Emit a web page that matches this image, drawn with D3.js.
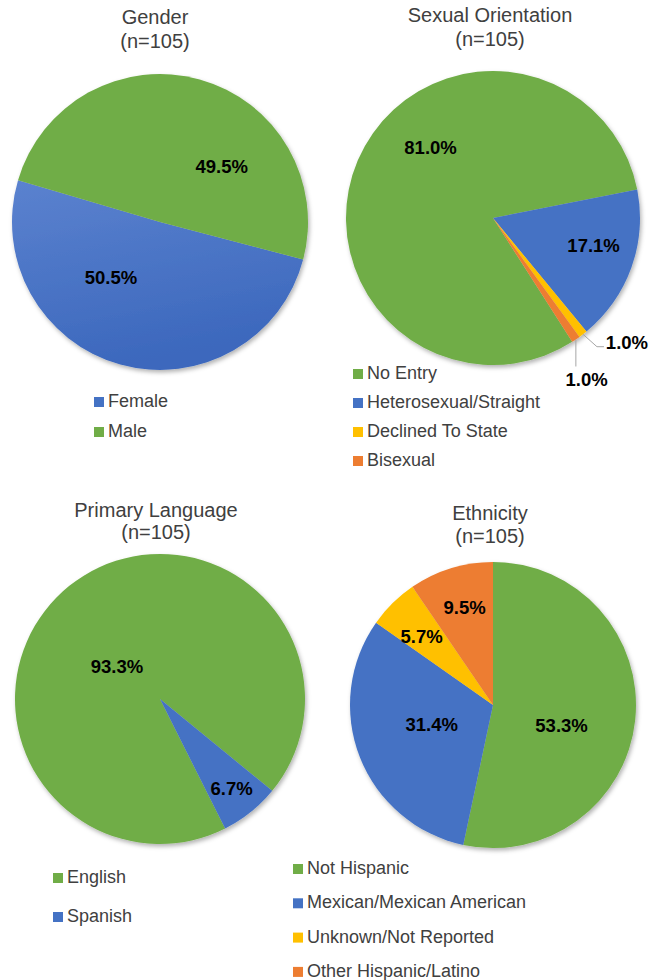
<!DOCTYPE html>
<html>
<head>
<meta charset="utf-8">
<script src="https://cdn.jsdelivr.net/npm/d3@7"></script>
<style>
  body { margin: 0; background: #fff; }
  svg { display: block; font-family: "Liberation Sans", Arial, sans-serif; }
</style>
</head>
<body>
<div id="chart"></div>
<script>
// data: counts out of n=105
const sampleSize = 105;

const genderCats = ["Female", "Male"];
const genderCounts = [53, 52];

const orientationCats = ["No Entry", "Heterosexual/Straight", "Declined To State", "Bisexual"];
const orientationCounts = [85, 18, 1, 1];

const languageCats = ["English", "Spanish"];
const languageCounts = [98, 7];

const ethnicityCats = ["Not Hispanic", "Mexican/Mexican American", "Unknown/Not Reported", "Other Hispanic/Latino"];
const ethnicityCounts = [56, 33, 6, 10];

const GREEN = "#70ad47", BLUE = "#4472c4", YELLOW = "#ffc000", ORANGE = "#ed7d31";

const width = 658, height = 980;
const rad = deg => deg * Math.PI / 180;
const fmt = d3.format(".1f");

const svg = d3.select("#chart").append("svg")
  .attr("width", width)
  .attr("height", height);

const defs = svg.append("defs");
defs.append("filter")
    .attr("id", "shadow")
    .attr("x", "-10%").attr("y", "-10%")
    .attr("width", "125%").attr("height", "125%")
  .append("feDropShadow")
    .attr("dx", 1.5).attr("dy", 2.5)
    .attr("stdDeviation", 2)
    .attr("flood-color", "#000")
    .attr("flood-opacity", 0.3);

const grad = defs.append("linearGradient")
  .attr("id", "blueGrad")
  .attr("x1", 0).attr("y1", 0).attr("x2", 0.3).attr("y2", 1);
grad.append("stop").attr("offset", "0%").attr("stop-color", "#5b82cf");
grad.append("stop").attr("offset", "100%").attr("stop-color", "#3c68bd");

// layout for each chart (label placement: angle shift from slice middle, fraction of radius)
const charts = [
  {
    title: "Gender", cats: genderCats, counts: genderCounts,
    colors: ["url(#blueGrad)", GREEN], legendColors: [BLUE, GREEN],
    cx: 160, cy: 222, r: 148, start: 104.7,
    tx: 155, ty: [24, 48],
    legend: { x: 94, y: 407, dy: 30 },
    labels: [{ shift: 26, frac: 0.5 }, { shift: 32.6, frac: 0.56 }]
  },
  {
    title: "Sexual Orientation", cats: orientationCats, counts: orientationCounts,
    colors: [GREEN, BLUE, YELLOW, ORANGE],
    cx: 493, cy: 218, r: 147, start: 147.4,
    tx: 490, ty: [22, 46],
    legend: { x: 353, y: 379, dy: 29 },
    labels: [
      { shift: 25.3, frac: 0.64 },
      { shift: -4.2, frac: 0.71 },
      { shift: -9.3, frac: 1.245, leader: "elbow" },
      { shift: 4.2, frac: 1.27, leader: "drop" }
    ]
  },
  {
    title: "Primary Language", cats: languageCats, counts: languageCounts,
    colors: [GREEN, BLUE],
    cx: 160, cy: 699, r: 145, start: 153.3,
    tx: 156, ty: [517, 539],
    legend: { x: 53, y: 883, dy: 39 },
    labels: [{ shift: -14.6, frac: 0.37 }, { shift: 0, frac: 0.79 }]
  },
  {
    title: "Ethnicity", cats: ethnicityCats, counts: ethnicityCounts,
    colors: [GREEN, BLUE, YELLOW, ORANGE],
    cx: 493, cy: 705, r: 143, start: 0,
    tx: 490, ty: [520, 543],
    legend: { x: 293, y: 874, dy: 34.3 },
    labels: [
      { shift: 10.5, frac: 0.5 },
      { shift: 3.7, frac: 0.45 },
      { shift: -1.8, frac: 0.69 },
      { shift: 0.9, frac: 0.71 }
    ]
  }
];

const polar = (a, r) => [r * Math.sin(a), -r * Math.cos(a)];

const drawPie = c => {
  const rows = c.cats.map((name, i) => ({ name, value: c.counts[i], i }));

  const pie = d3.pie()
    .sort(null)
    .value(d => d.value)
    .startAngle(rad(c.start))
    .endAngle(rad(c.start) + 2 * Math.PI);

  const arc = d3.arc().innerRadius(0).outerRadius(c.r);
  const arcs = pie(rows);

  // title
  const t = svg.append("text")
    .attr("text-anchor", "middle")
    .style("font-size", "20px")
    .style("fill", "#404040");
  t.append("tspan").attr("x", c.tx).attr("y", c.ty[0]).text(c.title);
  t.append("tspan").attr("x", c.tx).attr("y", c.ty[1]).text(`(n=${sampleSize})`);

  const g = svg.append("g")
    .attr("transform", `translate(${c.cx}, ${c.cy})`);

  g.append("g")
    .attr("filter", "url(#shadow)")
    .selectAll("path")
    .data(arcs)
    .join("path")
      .attr("d", arc)
      .attr("fill", d => c.colors[d.index]);

  arcs.forEach(d => {
    const lab = c.labels[d.index];
    const mid = (d.startAngle + d.endAngle) / 2;
    const [lx, ly] = polar(mid + rad(lab.shift), c.r * lab.frac);

    if (lab.leader === "elbow") {
      const [ex, ey] = polar(mid, c.r);
      g.append("polyline")
        .attr("points", [[ex, ey], [lx - 30, ly + 4], [lx - 23, ly + 4]].join(" "))
        .attr("fill", "none")
        .attr("stroke", "#a6a6a6")
        .attr("stroke-width", 1);
    }
    if (lab.leader === "drop") {
      const [ex, ey] = polar(mid, c.r);
      g.append("polyline")
        .attr("points", [[ex, ey], [ex, ly - 13]].join(" "))
        .attr("fill", "none")
        .attr("stroke", "#a6a6a6")
        .attr("stroke-width", 1);
    }

    g.append("text")
      .attr("x", lx)
      .attr("y", ly)
      .attr("dy", "0.35em")
      .attr("text-anchor", "middle")
      .style("font-size", "18.5px")
      .style("font-weight", "bold")
      .style("fill", "#000")
      .text(`${fmt(d.value / sampleSize * 100)}%`);
  });

  // legend
  const lg = svg.append("g");
  const items = lg.selectAll("g")
    .data(rows)
    .join("g")
      .attr("transform", d => `translate(${c.legend.x}, ${c.legend.y + d.i * c.legend.dy})`);

  items.append("rect")
    .attr("x", 0)
    .attr("y", -10)
    .attr("width", 10)
    .attr("height", 10)
    .attr("fill", d => (c.legendColors || c.colors)[d.i]);

  items.append("text")
    .attr("x", 14)
    .attr("y", 0)
    .style("font-size", "18px")
    .style("fill", "#404040")
    .text(d => d.name);
};

charts.forEach(drawPie);
</script>
</body>
</html>
